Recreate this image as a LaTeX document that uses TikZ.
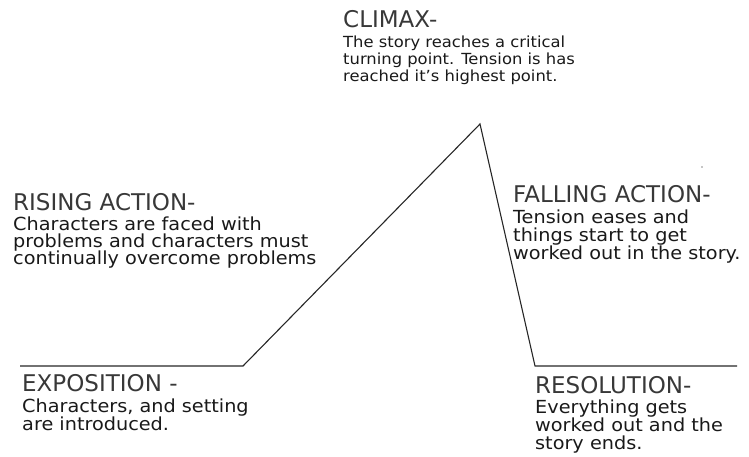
\documentclass[tikz,border=0pt]{standalone}
\usepackage{fontspec}
\setmainfont{DejaVu Sans}
\newfontfamily\bodyfont{DejaVu Sans}[FakeStretch=1.07]
\begin{document}
\begin{tikzpicture}[x=1pt,y=-1pt,
  head/.style={anchor=base west, inner sep=0pt, text height=17pt, text depth=2pt,
    font=\fontsize{23}{23}\selectfont, text=black!78},
  body/.style={anchor=base west, inner sep=0pt, text height=13pt, text depth=4pt,
    font=\bodyfont\fontsize{18}{18}\selectfont, text=black!90},
  smallbody/.style={body, text height=12pt, text depth=4pt,
    font=\bodyfont\fontsize{15.3}{17}\selectfont},
  plot/.style={draw=black!85, line width=1.1pt}]
\useasboundingbox (0,0) rectangle (749,457);

% plot line of the story arc
\coordinate (start) at (20,366);
\coordinate (rise) at (243,366);
\coordinate (peak) at (480,124);
\coordinate (fall) at (535,366);
\coordinate (end) at (737,366);
\draw[plot] (start) -- (rise) -- (peak) -- (fall) -- (end);

% climax
\node[head] (climaxh) at (343,28) {CLIMAX-};
\node[smallbody] (climax1) at (343,48) {The story reaches a critical};
\node[smallbody] (climax2) at (343,65) {turning point. Tension is has};
\node[smallbody] (climax3) at (343,82) {reached it’s highest point.};

% rising action
\node[head] (risingh) at (13,210) {RISING ACTION-};
\node[body] (rising1) at (13,230) {Characters are faced with};
\node[body] (rising2) at (13,247) {problems and characters must};
\node[body] (rising3) at (13,264) {continually overcome problems};

% falling action
\node[head] (fallingh) at (513,203) {FALLING ACTION-};
\node[body] (falling1) at (513,223) {Tension eases and};
\node[body] (falling2) at (513,241) {things start to get};
\node[body] (falling3) at (513,259) {worked out in the story.};

% exposition
\node[head] (expoh) at (22,391) {EXPOSITION -};
\node[body] (expo1) at (22,412) {Characters, and setting};
\node[body] (expo2) at (22,430) {are introduced.};

% resolution
\node[head] (resoh) at (535,393) {RESOLUTION-};
\node[body] (reso1) at (535,413) {Everything gets};
\node[body] (reso2) at (535,431) {worked out and the};
\node[body] (reso3) at (535,449) {story ends.};

% small speck above the falling action heading
\fill[black!45] (702,167) circle (0.8pt);
\end{tikzpicture}
\end{document}
